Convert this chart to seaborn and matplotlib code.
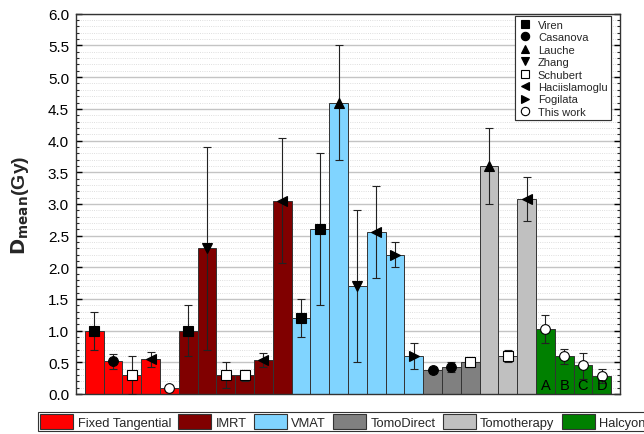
import numpy as np
import pandas as pd
import matplotlib.pyplot as plt
import seaborn as sns
from matplotlib.lines import Line2D
from matplotlib.patches import Patch
from matplotlib.ticker import MultipleLocator, FormatStrFormatter

sns.set_theme(style="white")
plt.rcParams["font.family"] = ["Liberation Sans", "DejaVu Sans"]

# Data
techniques = (["Fixed Tangential"] * 5 + ["IMRT"] * 6 + ["VMAT"] * 7
              + ["TomoDirect"] * 3 + ["Tomotherapy"] * 3 + ["Halcyon"] * 4)
studies = ["Viren", "Casanova", "Schubert", "Haciislamoglu", "This work",
           "Viren", "Zhang", "Schubert", "Schubert", "Haciislamoglu", "Haciislamoglu",
           "Viren", "Viren", "Lauche", "Zhang", "Haciislamoglu", "Fogilata", "Fogilata",
           "Casanova", "Casanova", "Schubert",
           "Lauche", "Schubert", "Haciislamoglu",
           "This work", "This work", "This work", "This work"]
dmean = [1.00, 0.52, 0.30, 0.55, 0.10,
         1.00, 2.30, 0.30, 0.30, 0.54, 3.05,
         1.20, 2.60, 4.60, 1.70, 2.56, 2.20, 0.60,
         0.38, 0.43, 0.50,
         3.60, 0.60, 3.08,
         1.03, 0.60, 0.45, 0.28]
err_lo = [0.70, 0.40, 0.00, 0.43, 0.06,
          0.60, 0.70, 0.10, 0.20, 0.43, 2.07,
          0.90, 1.40, 3.70, 0.50, 1.83, 2.00, 0.40,
          0.35, 0.34, 0.42,
          3.00, 0.50, 2.73,
          0.80, 0.48, 0.24, 0.18]
err_hi = [1.30, 0.63, 0.60, 0.66, 0.14,
          1.40, 3.90, 0.50, 0.38, 0.64, 4.04,
          1.50, 3.80, 5.50, 2.90, 3.29, 2.40, 0.80,
          0.41, 0.51, 0.59,
          4.20, 0.70, 3.43,
          1.25, 0.71, 0.64, 0.39]
halcyon_labels = ["A", "B", "C", "D"]

tech_order = ["Fixed Tangential", "IMRT", "VMAT", "TomoDirect", "Tomotherapy", "Halcyon"]
tech_colors = {"Fixed Tangential": "#ff0000", "IMRT": "#800000", "VMAT": "#80d4ff",
               "TomoDirect": "#808080", "Tomotherapy": "#c0c0c0", "Halcyon": "#008000"}
study_order = ["Viren", "Casanova", "Lauche", "Zhang", "Schubert",
               "Haciislamoglu", "Fogilata", "This work"]
study_markers = {"Viren": ("s", "black"), "Casanova": ("o", "black"),
                 "Lauche": ("^", "black"), "Zhang": ("v", "black"),
                 "Schubert": ("s", "white"), "Haciislamoglu": ("<", "black"),
                 "Fogilata": (">", "black"), "This work": ("o", "white")}

df = pd.DataFrame({"bar": np.arange(len(dmean)), "technique": techniques,
                   "study": studies, "dmean": dmean,
                   "lo": err_lo, "hi": err_hi})

fig = plt.figure(figsize=(6.44, 4.35), dpi=100)
ax = fig.add_axes([0.118, 0.092, 0.845, 0.874])

sns.barplot(data=df, x="bar", y="dmean", hue="technique", hue_order=tech_order,
            palette=tech_colors, saturation=1, dodge=False, width=1.0,
            edgecolor="#333333", linewidth=0.7, legend=False, ax=ax, zorder=2)

# error bars
ax.errorbar(df["bar"], df["dmean"],
            yerr=[df["dmean"] - df["lo"], df["hi"] - df["dmean"]],
            fmt="none", ecolor="#222222", elinewidth=0.8, capsize=3,
            capthick=0.8, zorder=3)

# study markers
for st in study_order:
    sub = df[df["study"] == st]
    m, fc = study_markers[st]
    ax.plot(sub["bar"], sub["dmean"], linestyle="none", marker=m, markersize=7,
            markerfacecolor=fc, markeredgecolor="black", markeredgewidth=0.8, zorder=4)

# Halcyon letters
hal = df[df["technique"] == "Halcyon"]
for xpos, lab in zip(hal["bar"], halcyon_labels):
    ax.text(xpos, 0.03, lab, ha="center", va="bottom", fontsize=10.5, color="black", zorder=5)

ax.set_xlim(-0.97, len(dmean) - 0.02)
ax.set_ylim(0, 6.0)
ax.set_xticks([])
ax.set_xlabel("")
ax.set_ylabel(r"$\mathbf{D_{mean}}$(Gy)", fontsize=14, fontweight="bold", labelpad=12)
ax.yaxis.set_major_locator(MultipleLocator(0.5))
ax.yaxis.set_minor_locator(MultipleLocator(0.1))
ax.yaxis.set_major_formatter(FormatStrFormatter("%.1f"))
ax.tick_params(axis="y", which="major", direction="in", length=4, width=1,
               left=True, right=True, labelsize=11, pad=5, colors="black")
ax.tick_params(axis="y", which="minor", direction="in", length=2, width=0.8,
               left=True, right=True)
ax.set_axisbelow(True)
ax.grid(axis="y", which="major", color="#c4c4c4", linewidth=1.0, linestyle="-")
ax.grid(axis="y", which="minor", color="#d4d4d4", linewidth=0.6, linestyle=":")
for sp in ax.spines.values():
    sp.set_color("#333333")
    sp.set_linewidth(1.0)

# study legend (inside, top right)
st_handles = [Line2D([], [], linestyle="none", marker=study_markers[s][0], markersize=6,
                     markerfacecolor=study_markers[s][1], markeredgecolor="black",
                     markeredgewidth=0.8) for s in study_order]
leg1 = ax.legend(st_handles, study_order, loc="upper right", bbox_to_anchor=(0.983, 0.993),
                 fontsize=8, frameon=True, fancybox=False, edgecolor="#333333",
                 framealpha=1, handlelength=1.2, handletextpad=0.6, labelspacing=0.22,
                 borderpad=0.3, borderaxespad=0)
leg1.get_frame().set_linewidth(0.8)
ax.add_artist(leg1)

# technique legend (below axes)
tech_handles = [Patch(facecolor=tech_colors[t], edgecolor="#333333", linewidth=0.8)
                for t in tech_order]
leg2 = fig.legend(tech_handles, tech_order, loc="lower left", bbox_to_anchor=(0.0585, 0.006),
                  ncol=6, fontsize=9.3, frameon=True, fancybox=False, edgecolor="#333333",
                  framealpha=1, handlelength=2.55, handleheight=1.3, handletextpad=0.35,
                  columnspacing=0.55, borderpad=0.2, borderaxespad=0)
leg2.get_frame().set_linewidth(0.8)

fig.savefig("out.png", dpi=100)
